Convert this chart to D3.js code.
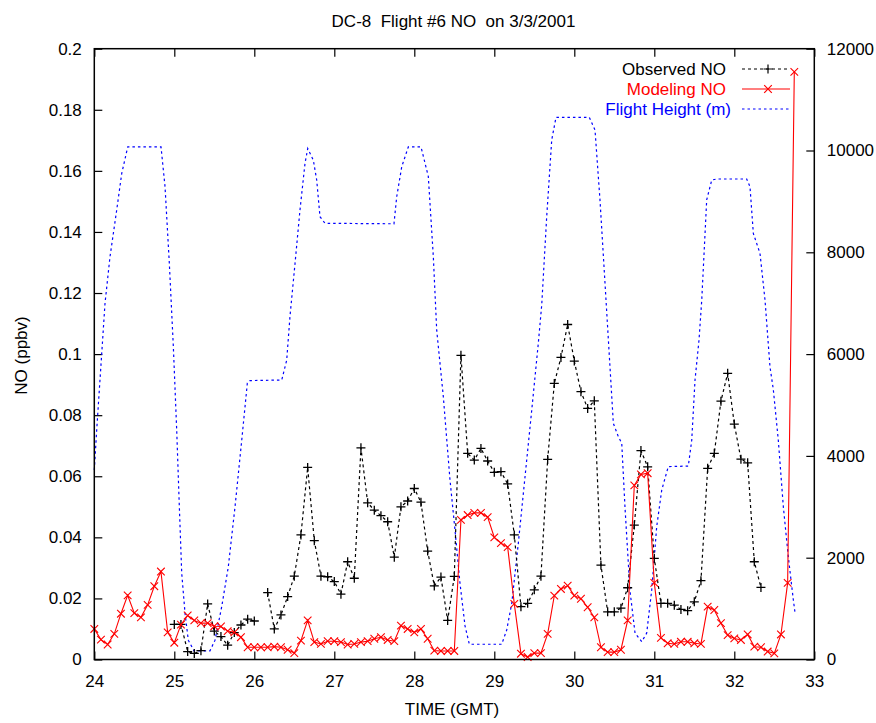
<!DOCTYPE html>
<html>
<head>
<meta charset="utf-8">
<script src="https://cdn.jsdelivr.net/npm/d3@7"></script>
<style>
  html, body { margin: 0; padding: 0; background: #fff; }
  svg { display: block; font-family: "Liberation Sans", Arial, Helvetica, sans-serif; }
</style>
</head>
<body>
<svg id="chart" width="876" height="723"></svg>
<script>
// Sampling times (GMT hours, 5-minute steps)
const sampleTimes = [
  24.000, 24.083, 24.167, 24.250, 24.333, 24.417, 24.500, 24.583, 24.667, 24.750, 24.833, 24.917,
  25.000, 25.083, 25.167, 25.250, 25.333, 25.417, 25.500, 25.583, 25.667, 25.750, 25.833, 25.917,
  26.000, 26.083, 26.167, 26.250, 26.333, 26.417, 26.500, 26.583, 26.667, 26.750, 26.833, 26.917,
  27.000, 27.083, 27.167, 27.250, 27.333, 27.417, 27.500, 27.583, 27.667, 27.750, 27.833, 27.917,
  28.000, 28.083, 28.167, 28.250, 28.333, 28.417, 28.500, 28.583, 28.667, 28.750, 28.833, 28.917,
  29.000, 29.083, 29.167, 29.250, 29.333, 29.417, 29.500, 29.583, 29.667, 29.750, 29.833, 29.917,
  30.000, 30.083, 30.167, 30.250, 30.333, 30.417, 30.500, 30.583, 30.667, 30.750, 30.833, 30.917,
  31.000, 31.083, 31.167, 31.250, 31.333, 31.417, 31.500, 31.583, 31.667, 31.750, 31.833, 31.917,
  32.000, 32.083, 32.167, 32.250, 32.333, 32.417, 32.500, 32.583, 32.667, 32.750
];

// Observed NO (ppbv); null = no measurement
const observedNO = [
  null, null, null, null, null, null, null, null, null, null, null, null,
  0.0115, 0.0115, 0.0026, 0.0020, 0.0029, 0.0182, 0.0093, 0.0075, 0.0047, 0.0088, 0.0113, 0.0132,
  0.0126, null, 0.0219, 0.0100, 0.0146, 0.0206, 0.0273, 0.0408, 0.0629, 0.0389, 0.0273, 0.0271,
  0.0255, 0.0214, 0.0320, 0.0266, 0.0693, 0.0513, 0.0489, 0.0471, 0.0451, 0.0335, 0.0500, 0.0519,
  0.0560, 0.0515, 0.0355, 0.0241, 0.0270, 0.0128, 0.0272, 0.0996, 0.0675, 0.0653, 0.0691, 0.0650,
  0.0613, 0.0615, 0.0575, 0.0408, 0.0173, 0.0184, 0.0228, 0.0273, 0.0655, 0.0904, 0.0989, 0.1097,
  0.0977, 0.0877, 0.0822, 0.0847, 0.0309, 0.0156, 0.0156, 0.0168, 0.0235, 0.0440, 0.0684, 0.0631,
  0.0331, 0.0184, 0.0184, 0.0178, 0.0164, 0.0160, 0.0189, 0.0258, 0.0626, 0.0675, 0.0846, 0.0937,
  0.0771, 0.0656, 0.0644, 0.0320, 0.0236, null, null, null, null, null
];

// Modeled NO (ppbv)
const modelNO = [
  0.0100, 0.0065, 0.0049, 0.0084, 0.0150, 0.0210, 0.0152, 0.0138, 0.0179, 0.0240, 0.0288, 0.0089,
  0.0055, 0.0114, 0.0144, 0.0128, 0.0119, 0.0119, 0.0109, 0.0108, 0.0093, 0.0089, 0.0073, 0.0040,
  0.0040, 0.0040, 0.0040, 0.0042, 0.0040, 0.0032, 0.0021, 0.0062, 0.0128, 0.0057, 0.0051, 0.0060,
  0.0060, 0.0057, 0.0049, 0.0051, 0.0057, 0.0060, 0.0068, 0.0073, 0.0064, 0.0060, 0.0111, 0.0100,
  0.0089, 0.0100, 0.0068, 0.0029, 0.0028, 0.0028, 0.0028, 0.0457, 0.0473, 0.0480, 0.0480, 0.0466,
  0.0400, 0.0381, 0.0368, 0.0182, 0.0019, 0.0008, 0.0021, 0.0021, 0.0084, 0.0209, 0.0231, 0.0242,
  0.0209, 0.0199, 0.0171, 0.0138, 0.0040, 0.0024, 0.0024, 0.0032, 0.0128, 0.0570, 0.0606, 0.0610,
  0.0251, 0.0071, 0.0053, 0.0051, 0.0058, 0.0058, 0.0053, 0.0051, 0.0173, 0.0162, 0.0119, 0.0080,
  0.0069, 0.0064, 0.0082, 0.0042, 0.0040, 0.0026, 0.0020, 0.0082, 0.0251, 0.1924
];

// Flight altitude track (GMT hours, metres)
const heightTimes = [
  24.000, 24.030, 24.071, 24.134, 24.196, 24.280, 24.343, 24.418, 24.834, 24.884, 24.938, 24.988,
  25.030, 25.063, 25.093, 25.134, 25.175, 25.246, 25.446, 25.509, 25.593, 25.675, 25.759, 25.843,
  25.913, 25.946, 26.343, 26.405, 26.446, 26.509, 26.571, 26.634, 26.668, 26.738, 26.780, 26.821,
  26.884, 27.746, 27.780, 27.843, 27.925, 28.084, 28.175, 28.238, 28.280, 28.363, 28.446, 28.509,
  28.571, 28.634, 28.688, 29.093, 29.155, 29.218, 29.300, 29.384, 29.468, 29.550, 29.593, 29.655,
  29.718, 29.771, 30.188, 30.259, 30.321, 30.384, 30.446, 30.488, 30.550, 30.593, 30.634, 30.696,
  30.759, 30.843, 30.905, 30.968, 31.030, 31.093, 31.175, 31.425, 31.468, 31.509, 31.559, 31.593,
  31.655, 31.718, 31.780, 32.155, 32.196, 32.238, 32.321, 32.384, 32.446, 32.488, 32.550, 32.613,
  32.675, 32.738, 32.759
];
const flightHeight = [
  3720, 4510, 5490, 7000, 7910, 8830, 9550, 10070, 10070, 9290, 7780, 6150,
  4510, 3000, 1690, 910, 380, 170, 170, 380, 1040, 1820, 3000, 4310,
  5430, 5480, 5490, 5880, 6740, 7780, 8830, 9750, 10040, 9810, 9420, 8700,
  8570, 8560, 9090, 9680, 10070, 10070, 9490, 7910, 6470, 5160, 3530, 2540,
  1500, 660, 300, 300, 580, 1100, 2280, 3590, 4900, 6210, 6970, 8700,
  10210, 10650, 10650, 10400, 9030, 7390, 5750, 4640, 4380, 4250, 2980, 1350,
  520, 350, 520, 1370, 2610, 3330, 3790, 3800, 4310, 5490, 6280, 7060,
  9030, 9420, 9440, 9440, 9290, 8370, 7980, 7060, 5750, 5300, 4310, 3000,
  2020, 1170, 920
];

// Axis ticks
const xTicks = [24, 25, 26, 27, 28, 29, 30, 31, 32, 33];
const noTicks = [0, 0.02, 0.04, 0.06, 0.08, 0.1, 0.12, 0.14, 0.16, 0.18, 0.2];
const heightTicks = [0, 2000, 4000, 6000, 8000, 10000, 12000];

const titleText = "DC-8  Flight #6 NO  on 3/3/2001";
const seriesNames = ["Observed NO", "Modeling NO", "Flight Height (m)"];

// ---- drawing ----
const svg = d3.select("#chart");
const plotLeft = 94.3, plotRight = 814.3, plotTop = 48.7, plotBottom = 659.5;

const x = d3.scaleLinear().domain([24, 33]).range([plotLeft, plotRight]);
const yNO = d3.scaleLinear().domain([0, 0.2]).range([plotBottom, plotTop]);
const yH = d3.scaleLinear().domain([0, 12000]).range([plotBottom, plotTop]);

const fontSize = 17;
const tickLen = 8;

// axes with inward ticks
const axisStyle = g => {
  g.select(".domain").remove();
  g.selectAll(".tick line").attr("stroke", "#000").attr("stroke-width", 1.2);
  g.selectAll(".tick text").attr("fill", "#000").style("font-size", fontSize + "px")
    .style("font-family", '"Liberation Sans", Arial, sans-serif');
};

svg.append("g")
  .attr("transform", `translate(0,${plotBottom})`)
  .call(d3.axisBottom(x).tickValues(xTicks).tickFormat(d3.format("d"))
    .tickSize(-tickLen).tickPadding(15.5))
  .call(axisStyle);

svg.append("g")
  .attr("transform", `translate(0,${plotTop})`)
  .call(d3.axisTop(x).tickValues(xTicks).tickFormat("").tickSize(-tickLen))
  .call(axisStyle);

svg.append("g")
  .attr("transform", `translate(${plotLeft},0)`)
  .call(d3.axisLeft(yNO).tickValues(noTicks).tickFormat(d => String(+d.toFixed(2)))
    .tickSize(-tickLen).tickPadding(12.5))
  .call(axisStyle);

svg.append("g")
  .attr("transform", `translate(${plotRight},0)`)
  .call(d3.axisRight(yH).tickValues(heightTicks).tickFormat(d3.format("d"))
    .tickSize(-tickLen).tickPadding(12.5))
  .call(axisStyle);

// plot data
const noData = sampleTimes.map((t, i) => ({ t, obs: observedNO[i], mod: modelNO[i] }));
const heightData = heightTimes.map((t, i) => ({ t, h: flightHeight[i] }));

const blue = "#0000ff", red = "#ff0000";

svg.append("path")
  .datum(heightData)
  .attr("fill", "none")
  .attr("stroke", blue)
  .attr("stroke-width", 1.2)
  .attr("stroke-dasharray", "2.5,3")
  .attr("d", d3.line().x(d => x(d.t)).y(d => yH(d.h)));

const plusPath = "M-4.5,0H4.5M0,-4.5V4.5";
const crossPath = "M-3.8,-3.8L3.8,3.8M-3.8,3.8L3.8,-3.8";

// observed NO: dashed line with plus markers
svg.append("path")
  .datum(noData)
  .attr("fill", "none")
  .attr("stroke", "#000")
  .attr("stroke-width", 1.2)
  .attr("stroke-dasharray", "3,3")
  .attr("d", d3.line().defined(d => d.obs !== null).x(d => x(d.t)).y(d => yNO(d.obs)));

svg.append("g").selectAll("path")
  .data(noData.filter(d => d.obs !== null))
  .join("path")
  .attr("transform", d => `translate(${x(d.t)},${yNO(d.obs)})`)
  .attr("d", plusPath)
  .attr("stroke", "#000")
  .attr("stroke-width", 1.3)
  .attr("fill", "none");

// modeled NO: solid red line with cross markers
svg.append("path")
  .datum(noData)
  .attr("fill", "none")
  .attr("stroke", red)
  .attr("stroke-width", 1.1)
  .attr("d", d3.line().x(d => x(d.t)).y(d => yNO(d.mod)));

svg.append("g").selectAll("path")
  .data(noData)
  .join("path")
  .attr("transform", d => `translate(${x(d.t)},${yNO(d.mod)})`)
  .attr("d", crossPath)
  .attr("stroke", red)
  .attr("stroke-width", 1.1)
  .attr("fill", "none");

// frame
svg.append("rect")
  .attr("x", plotLeft).attr("y", plotTop)
  .attr("width", plotRight - plotLeft).attr("height", plotBottom - plotTop)
  .attr("fill", "none").attr("stroke", "#000").attr("stroke-width", 1.5);

// legend
const legendRows = [
  { name: seriesNames[0], color: "#000", dash: "3,3", mark: plusPath, y: 69, end: 726 },
  { name: seriesNames[1], color: red, dash: null, mark: crossPath, y: 89, end: 726 },
  { name: seriesNames[2], color: blue, dash: "2.5,3", mark: null, y: 109, end: 731 }
];
const lg = svg.append("g");
legendRows.forEach(r => {
  lg.append("text")
    .attr("x", r.end).attr("y", r.y + 5.5)
    .attr("text-anchor", "end")
    .attr("fill", r.color)
    .style("font-size", fontSize + "px")
    .text(r.name);
  lg.append("line")
    .attr("x1", 742).attr("x2", 790).attr("y1", r.y).attr("y2", r.y)
    .attr("stroke", r.color).attr("stroke-width", 1.2)
    .attr("stroke-dasharray", r.dash);
  if (r.mark) {
    lg.append("path")
      .attr("transform", `translate(768,${r.y})`)
      .attr("d", r.mark)
      .attr("stroke", r.color).attr("stroke-width", 1.2).attr("fill", "none");
  }
});

// titles
svg.append("text")
  .attr("x", 453.5).attr("y", 26.5)
  .attr("text-anchor", "middle")
  .style("font-size", fontSize + "px")
  .style("white-space", "pre")
  .attr("xml:space", "preserve")
  .text(titleText);

svg.append("text")
  .attr("transform", "translate(27,355.5) rotate(-90)")
  .attr("text-anchor", "middle")
  .style("font-size", fontSize + "px")
  .text("NO (ppbv)");

svg.append("text")
  .attr("x", 452).attr("y", 715)
  .attr("text-anchor", "middle")
  .style("font-size", fontSize + "px")
  .text("TIME (GMT)");
</script>
</body>
</html>
